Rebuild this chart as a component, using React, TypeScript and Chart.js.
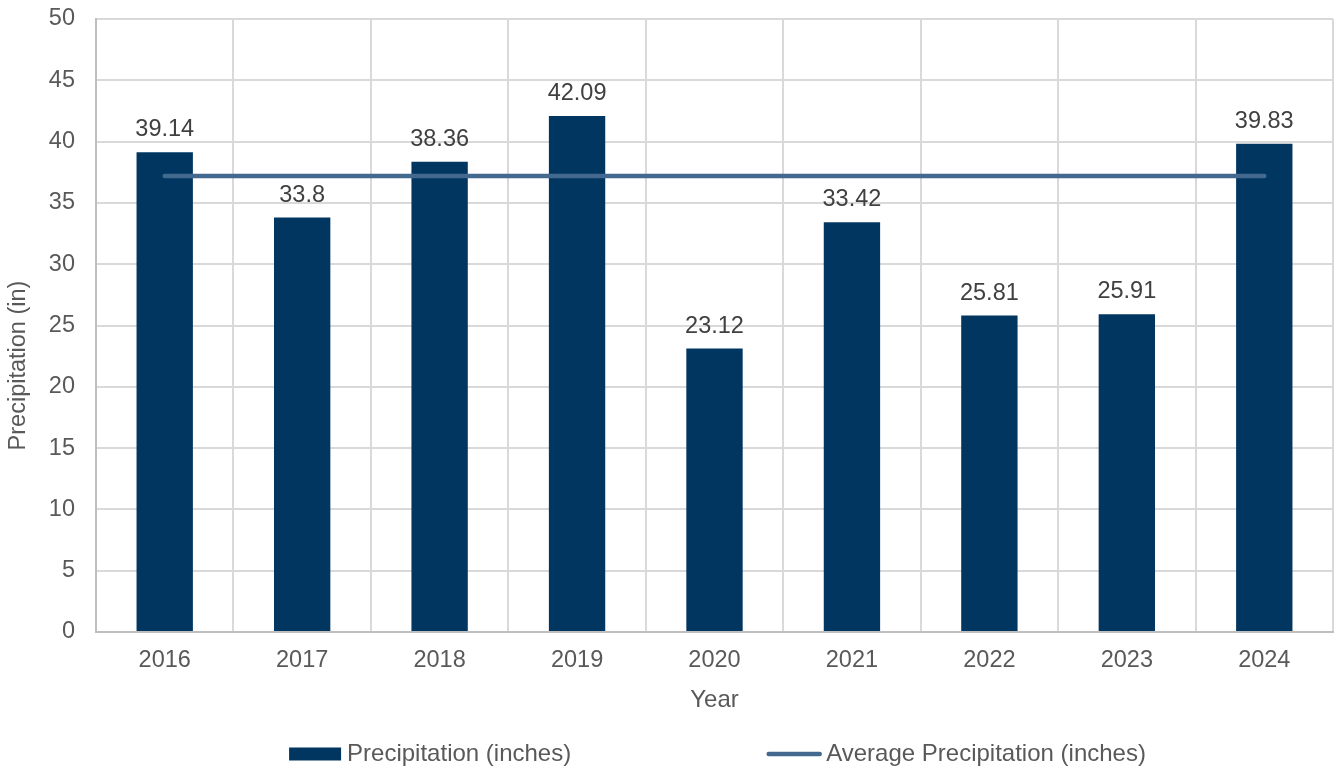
import React, { useEffect, useRef } from 'react';
import { Chart, registerables } from 'chart.js';

Chart.register(...registerables);

const years = ['2016', '2017', '2018', '2019', '2020', '2021', '2022', '2023', '2024'];
const precipitation = [39.14, 33.8, 38.36, 42.09, 23.12, 33.42, 25.81, 25.91, 39.83];
const averagePrecipitation = [37.19, 37.19, 37.19, 37.19, 37.19, 37.19, 37.19, 37.19, 37.19];
const seriesNames = ['Precipitation (inches)', 'Average Precipitation (inches)'];
const axisTitles = { x: 'Year', y: 'Precipitation (in)' };
const yRange = { min: 0, max: 50, step: 5 };

const BAR_COLOR = '#003660';
const LINE_COLOR = '#44698e';
const GRID_COLOR = '#d9d9d9';
const AXIS_COLOR = '#bfbfbf';
const TEXT_COLOR = '#595959';
const LABEL_COLOR = '#404040';
const FONT = "'Liberation Sans', Arial, sans-serif";

const dataLabelPlugin = {
  id: 'dataLabels',
  afterDatasetsDraw(chart: any) {
    const ctx = chart.ctx;
    const meta = chart.getDatasetMeta(0);
    ctx.save();
    ctx.font = `23.5px ${FONT}`;
    ctx.fillStyle = LABEL_COLOR;
    ctx.textAlign = 'center';
    ctx.textBaseline = 'alphabetic';
    meta.data.forEach((bar: any, i: number) => {
      ctx.fillText(String(precipitation[i]), bar.x, bar.y - 16);
    });
    ctx.restore();
  },
};

const yTitlePlugin = {
  id: 'yTitle',
  afterDraw(chart: any) {
    const ctx = chart.ctx;
    const area = chart.chartArea;
    ctx.save();
    ctx.font = `23.5px ${FONT}`;
    ctx.fillStyle = TEXT_COLOR;
    ctx.textAlign = 'center';
    ctx.textBaseline = 'middle';
    ctx.translate(19, (area.top + area.bottom) / 2 + 40);
    ctx.rotate(-Math.PI / 2);
    ctx.fillText(axisTitles.y, 0, 0);
    ctx.restore();
  },
};

const legendPlugin = {
  id: 'customLegend',
  afterDraw(chart: any) {
    const ctx = chart.ctx;
    const area = chart.chartArea;
    ctx.save();
    ctx.font = `24px ${FONT}`;
    const tw1 = ctx.measureText(seriesNames[0]).width;
    const tw2 = ctx.measureText(seriesNames[1]).width;
    const w1 = 52 + 6 + tw1;
    const gap = 195;
    const w2 = 56 + 4 + tw2;
    const total = w1 + gap + w2;
    const cx = (area.left + area.right) / 2 + 3;
    let x = cx - total / 2;
    const cy = 754;
    // item 1: bar box
    ctx.fillStyle = BAR_COLOR;
    ctx.fillRect(x, cy - 6.5, 52, 13);
    ctx.fillStyle = TEXT_COLOR;
    ctx.textAlign = 'left';
    ctx.textBaseline = 'middle';
    ctx.fillText(seriesNames[0], x + 58, cy);
    x += w1 + gap;
    // item 2: line
    ctx.strokeStyle = LINE_COLOR;
    ctx.lineWidth = 4.5;
    ctx.lineCap = 'round';
    ctx.beginPath();
    ctx.moveTo(x + 2.5, cy);
    ctx.lineTo(x + 53.5, cy);
    ctx.stroke();
    ctx.fillStyle = TEXT_COLOR;
    ctx.fillText(seriesNames[1], x + 60, cy);
    ctx.restore();
  },
};

export default function App() {
  const canvasRef = useRef<HTMLCanvasElement | null>(null);

  useEffect(() => {
    if (!canvasRef.current) return;
    Chart.defaults.font.family = FONT;
    const chart = new Chart(canvasRef.current, {
      type: 'bar',
      data: {
        labels: years,
        datasets: [
          {
            type: 'bar',
            label: seriesNames[0],
            data: precipitation,
            backgroundColor: BAR_COLOR,
            barPercentage: 0.41,
            categoryPercentage: 1,
            order: 2,
          },
          {
            type: 'line',
            label: seriesNames[1],
            data: averagePrecipitation,
            borderColor: LINE_COLOR,
            backgroundColor: LINE_COLOR,
            borderWidth: 4.5,
            borderCapStyle: 'round',
            pointRadius: 0,
            pointHoverRadius: 0,
            fill: false,
            order: 1,
          } as any,
        ],
      },
      options: {
        animation: false,
        responsive: true,
        maintainAspectRatio: false,
        layout: { padding: { top: 19, right: 11, bottom: 54, left: 0 } },
        plugins: {
          legend: { display: false },
          tooltip: { enabled: false },
        },
        scales: {
          x: {
            grid: {
              display: true,
              offset: true,
              color: GRID_COLOR,
              lineWidth: 2,
              drawTicks: false,
            },
            border: { display: true, color: AXIS_COLOR, width: 2 },
            ticks: { color: TEXT_COLOR, font: { size: 23.5 }, padding: 14 },
            title: {
              display: true,
              text: axisTitles.x,
              color: TEXT_COLOR,
              font: { size: 24 },
              padding: { top: 0, bottom: 1 },
            },
            afterFit(scale: any) {
              scale.height = 84;
            },
          },
          y: {
            min: yRange.min,
            max: yRange.max,
            ticks: { stepSize: yRange.step, color: TEXT_COLOR, font: { size: 23.5 }, padding: 21 },
            grid: { color: GRID_COLOR, lineWidth: 2, drawTicks: false },
            border: { display: true, color: AXIS_COLOR, width: 2 },
            title: { display: false },
            afterFit(scale: any) {
              scale.width = 96;
              scale.paddingTop = 0;
              scale.paddingBottom = 0;
            },
          },
        },
      },
      plugins: [dataLabelPlugin, yTitlePlugin, legendPlugin],
    });
    return () => chart.destroy();
  }, []);

  return (
    <div style={{ position: 'absolute', left: 0, top: 0, width: 1344, height: 770 }}>
      <canvas ref={canvasRef} />
    </div>
  );
}
